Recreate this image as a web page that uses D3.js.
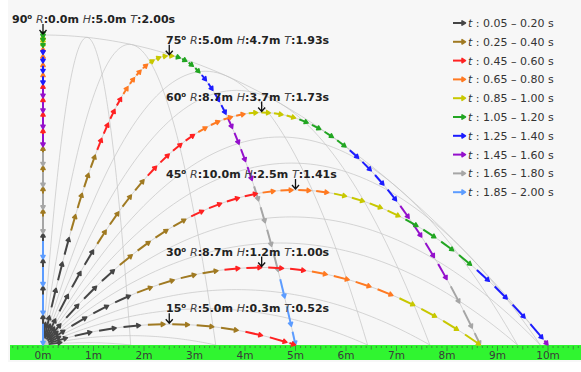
<!DOCTYPE html>
<html>
<head>
<meta charset="utf-8">
<script src="https://cdn.jsdelivr.net/npm/d3@7"></script>
<style>
  body { margin: 0; background: #fff; }
  svg { display: block; font-family: "DejaVu Sans", sans-serif; }
</style>
</head>
<body>
<div id="chart"></div>
<script>
// launch data (v0 in m/s, g in m/s^2, time step in s)
const v0 = 10;
const g = 10;
const dt = 0.05;
const angles = [90, 75, 60, 45, 30, 15];
const thinAngles = [5, 10, 15, 20, 25, 30, 35, 40, 45, 50, 55, 60, 65, 70, 75, 80, 85];
const fanAngles = [7.5, 22.5, 37.5, 52.5, 67.5, 82.5];
const ranges = ['0.0', '5.0', '8.7', '10.0', '8.7', '5.0'];
const heights = ['5.0', '4.7', '3.7', '2.5', '1.2', '0.3'];
const times = ['2.00', '1.93', '1.73', '1.41', '1.00', '0.52'];
const legendLabels = ['0.05 – 0.20', '0.25 – 0.40', '0.45 – 0.60', '0.65 – 0.80', '0.85 – 1.00',
  '1.05 – 1.20', '1.25 – 1.40', '1.45 – 1.60', '1.65 – 1.80', '1.85 – 2.00'];
const tickLabels = ['0m', '1m', '2m', '3m', '4m', '5m', '6m', '7m', '8m', '9m', '10m'];
const colors = ['#454545', '#a07a22', '#ff2222', '#ff7a22', '#c8c800',
  '#22a622', '#1c1cff', '#9410cc', '#a6a6a6', '#5c9cff'];

const width = 581, height = 372;
const x = d3.scaleLinear().domain([0, 10]).range([43, 548]);
const y = d3.scaleLinear().domain([0, 5]).range([345, 35]);

const svg = d3.select('#chart').append('svg')
  .attr('width', width)
  .attr('height', height);

svg.append('rect')
  .attr('x', 8).attr('y', 0)
  .attr('width', width - 8).attr('height', 362)
  .attr('fill', '#f7f7f7');

const rad = a => a * Math.PI / 180;
const pos = (a, t) => [v0 * Math.cos(rad(a)) * t, v0 * Math.sin(rad(a)) * t - g * t * t / 2];
const flight = a => 2 * v0 * Math.sin(rad(a)) / g;

// *** thin trajectories + envelope *** //
const line = d3.line().x(d => x(d[0])).y(d => y(d[1]));
const thin = svg.append('g')
  .attr('fill', 'none')
  .attr('stroke', '#c4c4c4')
  .attr('stroke-width', 0.7);

thin.selectAll('path.traj')
  .data(thinAngles)
  .join('path')
  .attr('class', 'traj')
  .attr('d', a => line(d3.range(0, 81).map(i => pos(a, flight(a) * i / 80))));

thin.append('path')
  .attr('d', line(d3.range(0, 81).map(i => {
    const xx = 10 * i / 80;
    return [xx, v0 * v0 / (2 * g) - g * xx * xx / (2 * v0 * v0)];
  })));

// *** ground ruler *** //
svg.append('rect')
  .attr('x', 10).attr('y', 345)
  .attr('width', width - 10).attr('height', 15)
  .attr('fill', '#30f530');

const ticks = d3.range(-6, 107).map(i => i / 10);
svg.append('g')
  .selectAll('line')
  .data(ticks)
  .join('line')
  .attr('x1', d => x(d)).attr('x2', d => x(d))
  .attr('y1', 346)
  .attr('y2', d => {
    const k = Math.round(d * 10);
    return 346 + (k % 10 === 0 ? 5 : k % 5 === 0 ? 3.5 : 2);
  })
  .attr('stroke', '#3c7a3c')
  .attr('stroke-width', 0.8);

svg.append('g')
  .selectAll('text')
  .data(tickLabels)
  .join('text')
  .attr('x', (d, i) => x(i))
  .attr('y', 359)
  .attr('text-anchor', 'middle')
  .attr('font-size', '10.5px')
  .attr('fill', '#3a3a3a')
  .text(d => d);

// *** coloured arrows *** //
const arrows = svg.append('g');
const steps = [];
fanAngles.forEach(a => steps.push({ a, t0: 0, t1: dt * 0.75, c: 0 }));
angles.forEach(a => {
  const T = flight(a);
  const n = Math.floor(T / dt + 1e-9);
  for (let k = 1; k <= n; k++) steps.push({ a, t0: (k - 1) * dt, t1: k * dt, c: Math.floor((k - 1) / 4) });
  if (T - n * dt > 0.004) steps.push({ a, t0: n * dt, t1: T, c: Math.floor(n / 4) });
});

steps.forEach(s => {
  const p0 = pos(s.a, s.t0 + (s.t1 - s.t0) * 0.3);
  const p1 = pos(s.a, s.t1);
  const x0 = x(p0[0]), y0 = y(p0[1]), x1 = x(p1[0]), y1 = y(p1[1]);
  const L = Math.hypot(x1 - x0, y1 - y0) || 1;
  const ux = (x1 - x0) / L, uy = (y1 - y0) / L;
  const hl = 3.6, hw = 2.1;
  arrows.append('line')
    .attr('x1', x0).attr('y1', y0)
    .attr('x2', x1 - ux * hl * 0.6).attr('y2', y1 - uy * hl * 0.6)
    .attr('stroke', colors[s.c])
    .attr('stroke-width', 2);
  arrows.append('path')
    .attr('d', `M${x1},${y1}L${x1 - ux * hl - uy * hw},${y1 - uy * hl + ux * hw}` +
      `L${x1 - ux * hl + uy * hw},${y1 - uy * hl - ux * hw}Z`)
    .attr('fill', colors[s.c])
    .attr('stroke', colors[s.c])
    .attr('stroke-width', 1.5)
    .attr('stroke-linejoin', 'round');
});

// *** apex markers and labels *** //
const labels = svg.append('g').attr('font-size', '11px').attr('fill', '#222');
angles.forEach((a, i) => {
  const ta = flight(a) / 2;
  const p = pos(a, ta);
  const ax = x(p[0]), ay = y(p[1]);
  labels.append('path')
    .attr('d', `M${ax},${ay - 11}V${ay - 1}M${ax - 3.5},${ay - 5}L${ax},${ay - 1}L${ax + 3.5},${ay - 5}`)
    .attr('fill', 'none')
    .attr('stroke', '#111')
    .attr('stroke-width', 1.3);

  const txt = labels.append('text')
    .attr('x', a === 90 ? 12 : 166)
    .attr('y', ay - 12)
    .attr('font-weight', 'bold');
  txt.append('tspan').text(a);
  txt.append('tspan').attr('font-size', '7px').attr('dy', -4).text('o');
  txt.append('tspan').attr('dy', 4).text(' ');
  txt.append('tspan').attr('font-style', 'italic').attr('font-weight', 'normal').attr('fill', '#444').text('R');
  txt.append('tspan').text(':' + ranges[i] + 'm ');
  txt.append('tspan').attr('font-style', 'italic').attr('font-weight', 'normal').attr('fill', '#444').text('H');
  txt.append('tspan').text(':' + heights[i] + 'm ');
  txt.append('tspan').attr('font-style', 'italic').attr('font-weight', 'normal').attr('fill', '#444').text('T');
  txt.append('tspan').text(':' + times[i] + 's');
});

// *** legend *** //
const legend = svg.append('g')
  .selectAll('g')
  .data(legendLabels)
  .join('g')
  .attr('transform', (d, i) => `translate(453, ${23 + i * 18.8})`);

legend.append('line')
  .attr('x1', 0).attr('x2', 10)
  .attr('stroke', (d, i) => colors[i])
  .attr('stroke-width', 2);
legend.append('path')
  .attr('d', 'M12.5,0L9,-2.2L9,2.2Z')
  .attr('fill', (d, i) => colors[i])
  .attr('stroke', (d, i) => colors[i])
  .attr('stroke-width', 1.5)
  .attr('stroke-linejoin', 'round');

const lt = legend.append('text')
  .attr('x', 15).attr('y', 4)
  .attr('font-size', '11px')
  .attr('fill', '#333');
lt.append('tspan').attr('font-style', 'italic').text('t');
lt.append('tspan').text(d => ' : ' + d + ' s');
</script>
</body>
</html>
